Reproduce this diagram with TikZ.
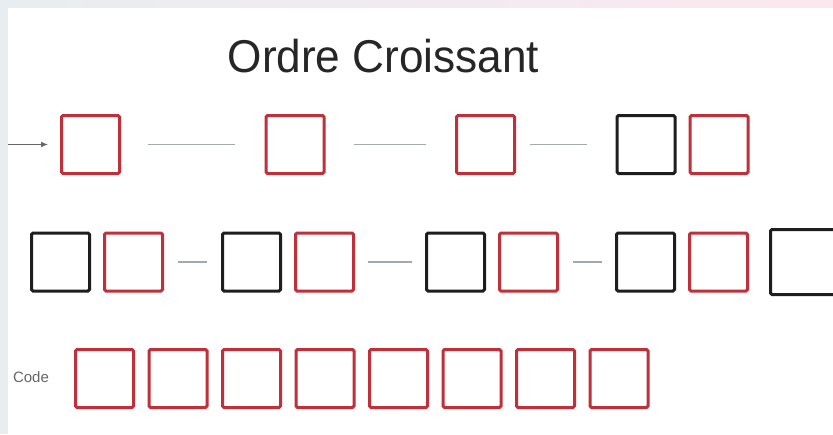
\documentclass[tikz,border=0pt]{standalone}
\usepackage{fontspec}
\setmainfont{Liberation Sans}
\usetikzlibrary{arrows.meta,positioning}
\definecolor{keyred}{HTML}{C0303A}
\definecolor{keyblack}{HTML}{1E1E1E}
\definecolor{linkgray}{HTML}{A4A9AE}
\definecolor{framegray}{HTML}{E8EDF2}
\definecolor{framepink}{HTML}{FBE8EE}

\begin{document}
\begin{tikzpicture}[
        x=1pt, y=-1pt,
        node distance=12pt,
        cell/.style={
          draw,
          line width=3pt,
          rounded corners=1.5pt,
          minimum size=58pt,
          inner sep=0pt
        },
        redcell/.style={cell, draw=keyred},
        blackcell/.style={cell, draw=keyblack},
        link/.style={
          draw=linkgray,
          line width=1.3pt
        },
        arrow/.style={
          -{Latex[length=7pt,width=6pt]},
          draw=black!60,
          line width=1.2pt
        }
      ]

      \useasboundingbox (0,0) rectangle (833,434);
      \fill[framegray] (0,0) rectangle (8,434);
      \shade[left color=framegray, right color=framepink] (0,0) rectangle (833,8);
      \fill[white] (8,8) rectangle (833,434);

      \node[anchor=base, font=\fontsize{46}{55}\selectfont, text=black!85, xscale=0.96] (title) at (383.5,72) {Ordre Croissant};

      % premiere ligne
      \coordinate (start) at (8,144.5);
      \node[redcell] (a1) at (90.5,144.5) {};
      \node[redcell] (a2) at (295,144.5) {};
      \node[redcell] (a3) at (485.5,144.5) {};
      \node[blackcell] (a4) at (646,144.5) {};
      \node[redcell, right=of a4] (a5) {};

      \draw[arrow, shorten >=12pt] (start) -- (a1);
      \draw[link, shorten <=27pt, shorten >=30pt] (a1) -- (a2);
      \draw[link, shorten <=28pt, shorten >=29pt] (a2) -- (a3);
      \draw[link, shorten <=14pt, shorten >=29pt] (a3) -- (a4);

      % deuxieme ligne
      \node[blackcell] (b1) at (60.5,262) {};
      \node[redcell, right=of b1] (b2) {};
      \node[blackcell] (b3) at (251.5,262) {};
      \node[redcell, right=of b3] (b4) {};
      \node[blackcell] (b5) at (455.5,262) {};
      \node[redcell, right=of b5] (b6) {};
      \node[blackcell] (b7) at (645.5,262) {};
      \node[redcell, right=of b7] (b8) {};
      \begin{scope}
        \clip (8,8) rectangle (833,434);
        \node[blackcell, minimum size=65pt, right=20pt of b8] (b9) {};
      \end{scope}

      \draw[link, shorten <=14pt, shorten >=14pt] (b2) -- (b3);
      \draw[link, shorten <=13pt, shorten >=13pt] (b4) -- (b5);
      \draw[link, shorten <=14pt, shorten >=13pt] (b6) -- (b7);

      % code
      \node[font=\fontsize{15}{18}\selectfont, text=black!60] (code) at (31,377) {Code};
      \node[redcell] (c1) at (104.5,378.5) {};
      \foreach \i [count=\j from 2] in {1,...,7}
        \node[redcell, right=12.5pt of c\i] (c\j) {};

      \end{tikzpicture}
\end{document}
